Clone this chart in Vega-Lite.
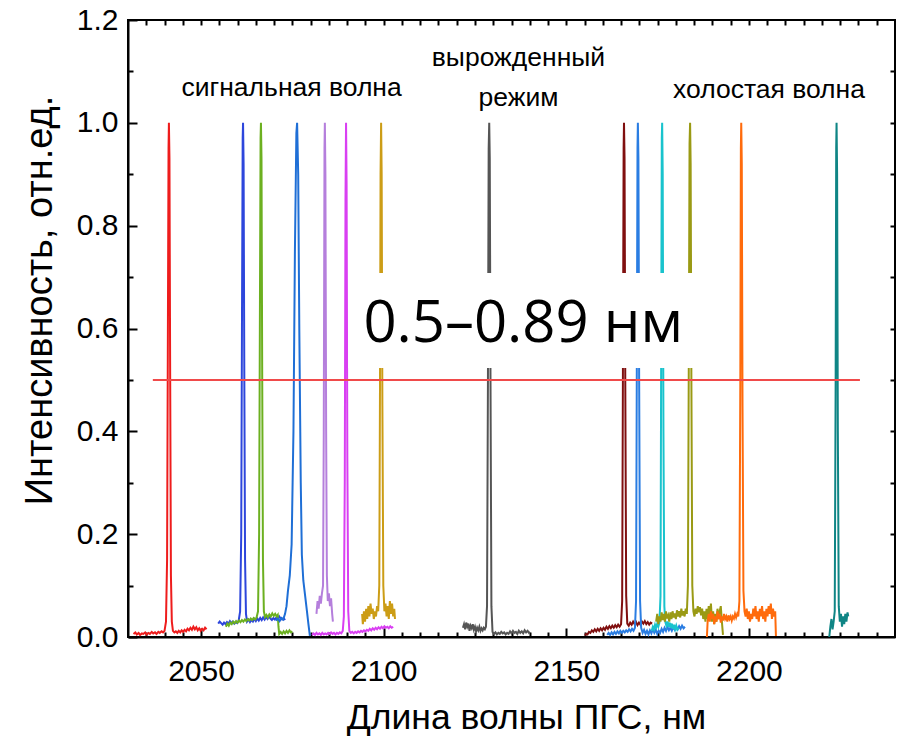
{
"$schema": "https://vega.github.io/schema/vega-lite/v6.json",
"width": 767, "height": 617,
"autosize": {"type": "none"},
"padding": {"left": 128, "top": 20, "right": 15, "bottom": 100},
"background": "white",
"config": {"view": {"stroke": "black", "strokeWidth": 2}, "axis": {"grid": false, "labelColor": "black", "titleColor": "black", "tickColor": "black", "domainColor": "black", "labelFont": "Liberation Sans", "titleFont": "Liberation Sans", "titleFontWeight": "normal", "zindex": 1}},
"datasets": {
"spec": [
{"s":"r1","x":2031.5,"y":0.006},{"s":"r1","x":2032.0,"y":0.009},{"s":"r1","x":2032.4,"y":0.005},{"s":"r1","x":2032.9,"y":0.008},{"s":"r1","x":2033.3,"y":0.004},{"s":"r1","x":2033.8,"y":0.007},{"s":"r1","x":2034.2,"y":0.006},{"s":"r1","x":2034.7,"y":0.009},{"s":"r1","x":2035.1,"y":0.005},{"s":"r1","x":2035.6,"y":0.008},{"s":"r1","x":2036.0,"y":0.006},{"s":"r1","x":2036.5,"y":0.01},{"s":"r1","x":2036.9,"y":0.007},{"s":"r1","x":2037.4,"y":0.009},{"s":"r1","x":2037.8,"y":0.006},{"s":"r1","x":2038.3,"y":0.01},{"s":"r1","x":2038.7,"y":0.008},{"s":"r1","x":2039.2,"y":0.011},{"s":"r1","x":2039.6,"y":0.009},{"s":"r1","x":2040.0,"y":0.012},{"s":"r1","x":2040.4,"y":0.03},{"s":"r1","x":2040.7,"y":0.15},{"s":"r1","x":2040.9,"y":0.55},{"s":"r1","x":2041.1,"y":0.95},{"s":"r1","x":2041.2,"y":1.0},{"s":"r1","x":2041.35,"y":0.93},{"s":"r1","x":2041.55,"y":0.5},{"s":"r1","x":2041.75,"y":0.12},{"s":"r1","x":2042.0,"y":0.03},{"s":"r1","x":2042.3,"y":0.012},{"s":"r1","x":2042.7,"y":0.009},{"s":"r1","x":2043.1,"y":0.011},{"s":"r1","x":2043.5,"y":0.008},{"s":"r1","x":2043.9,"y":0.012},{"s":"r1","x":2044.3,"y":0.009},{"s":"r1","x":2044.7,"y":0.013},{"s":"r1","x":2045.1,"y":0.01},{"s":"r1","x":2045.5,"y":0.014},{"s":"r1","x":2045.9,"y":0.011},{"s":"r1","x":2046.3,"y":0.016},{"s":"r1","x":2046.7,"y":0.013},{"s":"r1","x":2047.1,"y":0.018},{"s":"r1","x":2047.5,"y":0.014},{"s":"r1","x":2047.9,"y":0.02},{"s":"r1","x":2048.3,"y":0.015},{"s":"r1","x":2048.7,"y":0.019},{"s":"r1","x":2049.1,"y":0.013},{"s":"r1","x":2049.5,"y":0.017},{"s":"r1","x":2049.9,"y":0.012},{"s":"r1","x":2050.3,"y":0.016},{"s":"r1","x":2050.7,"y":0.013},{"s":"r1","x":2051.1,"y":0.018},{"s":"r1","x":2051.5,"y":0.015},
{"s":"b1","x":2054.7,"y":0.026},{"s":"b1","x":2055.1,"y":0.03},{"s":"b1","x":2055.5,"y":0.027},{"s":"b1","x":2055.9,"y":0.024},{"s":"b1","x":2056.3,"y":0.028},{"s":"b1","x":2056.7,"y":0.025},{"s":"b1","x":2057.1,"y":0.029},{"s":"b1","x":2057.5,"y":0.026},{"s":"b1","x":2057.9,"y":0.031},{"s":"b1","x":2058.3,"y":0.027},{"s":"b1","x":2058.7,"y":0.03},{"s":"b1","x":2059.1,"y":0.026},{"s":"b1","x":2059.5,"y":0.029},{"s":"b1","x":2059.9,"y":0.027},{"s":"b1","x":2060.3,"y":0.032},{"s":"b1","x":2060.7,"y":0.05},{"s":"b1","x":2061.0,"y":0.2},{"s":"b1","x":2061.2,"y":0.6},{"s":"b1","x":2061.4,"y":0.97},{"s":"b1","x":2061.5,"y":1.0},{"s":"b1","x":2061.65,"y":0.92},{"s":"b1","x":2061.85,"y":0.5},{"s":"b1","x":2062.05,"y":0.15},{"s":"b1","x":2062.3,"y":0.045},{"s":"b1","x":2062.6,"y":0.03},{"s":"b1","x":2063.0,"y":0.034},{"s":"b1","x":2063.4,"y":0.029},{"s":"b1","x":2063.8,"y":0.033},{"s":"b1","x":2064.2,"y":0.03},{"s":"b1","x":2064.6,"y":0.035},{"s":"b1","x":2065.0,"y":0.031},{"s":"b1","x":2065.4,"y":0.036},{"s":"b1","x":2065.8,"y":0.032},{"s":"b1","x":2066.2,"y":0.037},{"s":"b1","x":2066.6,"y":0.033},{"s":"b1","x":2067.0,"y":0.038},{"s":"b1","x":2067.4,"y":0.034},{"s":"b1","x":2067.8,"y":0.039},{"s":"b1","x":2068.2,"y":0.035},{"s":"b1","x":2068.6,"y":0.04},{"s":"b1","x":2069.0,"y":0.036},{"s":"b1","x":2069.4,"y":0.033},{"s":"b1","x":2069.8,"y":0.037},{"s":"b1","x":2070.2,"y":0.034},{"s":"b1","x":2070.6,"y":0.038},{"s":"b1","x":2071.0,"y":0.035},{"s":"b1","x":2071.4,"y":0.04},{"s":"b1","x":2071.8,"y":0.036},{"s":"b1","x":2072.2,"y":0.034},{"s":"b1","x":2072.6,"y":0.037},{"s":"b1","x":2073.0,"y":0.033},
{"s":"g1","x":2056.8,"y":0.02},{"s":"g1","x":2057.2,"y":0.026},{"s":"g1","x":2057.6,"y":0.022},{"s":"g1","x":2058.0,"y":0.028},{"s":"g1","x":2058.4,"y":0.025},{"s":"g1","x":2058.8,"y":0.03},{"s":"g1","x":2059.2,"y":0.027},{"s":"g1","x":2059.6,"y":0.031},{"s":"g1","x":2060.0,"y":0.028},{"s":"g1","x":2060.4,"y":0.032},{"s":"g1","x":2060.8,"y":0.029},{"s":"g1","x":2061.2,"y":0.033},{"s":"g1","x":2061.6,"y":0.03},{"s":"g1","x":2062.0,"y":0.034},{"s":"g1","x":2062.4,"y":0.031},{"s":"g1","x":2062.8,"y":0.035},{"s":"g1","x":2063.2,"y":0.032},{"s":"g1","x":2063.6,"y":0.036},{"s":"g1","x":2064.0,"y":0.033},{"s":"g1","x":2064.4,"y":0.037},{"s":"g1","x":2064.8,"y":0.034},{"s":"g1","x":2065.2,"y":0.038},{"s":"g1","x":2065.6,"y":0.05},{"s":"g1","x":2065.9,"y":0.2},{"s":"g1","x":2066.1,"y":0.6},{"s":"g1","x":2066.3,"y":0.97},{"s":"g1","x":2066.4,"y":1.0},{"s":"g1","x":2066.55,"y":0.93},{"s":"g1","x":2066.75,"y":0.5},{"s":"g1","x":2066.95,"y":0.15},{"s":"g1","x":2067.2,"y":0.05},{"s":"g1","x":2067.5,"y":0.039},{"s":"g1","x":2067.9,"y":0.043},{"s":"g1","x":2068.3,"y":0.038},{"s":"g1","x":2068.7,"y":0.044},{"s":"g1","x":2069.1,"y":0.04},{"s":"g1","x":2069.5,"y":0.046},{"s":"g1","x":2069.9,"y":0.041},{"s":"g1","x":2070.3,"y":0.045},{"s":"g1","x":2070.7,"y":0.04},{"s":"g1","x":2071.0,"y":0.043},{"s":"g1","x":2071.2,"y":0.02},{"s":"g1","x":2071.4,"y":0.006},{"s":"g1","x":2071.8,"y":0.01},{"s":"g1","x":2072.2,"y":0.006},{"s":"g1","x":2072.6,"y":0.011},{"s":"g1","x":2073.0,"y":0.007},{"s":"g1","x":2073.4,"y":0.012},{"s":"g1","x":2073.8,"y":0.008},{"s":"g1","x":2074.2,"y":0.013},{"s":"g1","x":2074.6,"y":0.009},{"s":"g1","x":2075.0,"y":0.011},
{"s":"b2","x":2070.5,"y":0.032},{"s":"b2","x":2071.0,"y":0.036},{"s":"b2","x":2071.5,"y":0.031},{"s":"b2","x":2072.0,"y":0.037},{"s":"b2","x":2072.5,"y":0.034},{"s":"b2","x":2073.0,"y":0.045},{"s":"b2","x":2073.4,"y":0.06},{"s":"b2","x":2073.8,"y":0.09},{"s":"b2","x":2074.3,"y":0.12},{"s":"b2","x":2074.8,"y":0.18},{"s":"b2","x":2075.3,"y":0.4},{"s":"b2","x":2075.7,"y":0.75},{"s":"b2","x":2076.1,"y":0.98},{"s":"b2","x":2076.3,"y":1.0},{"s":"b2","x":2076.6,"y":0.9},{"s":"b2","x":2076.9,"y":0.6},{"s":"b2","x":2077.3,"y":0.3},{"s":"b2","x":2077.6,"y":0.16},{"s":"b2","x":2078.0,"y":0.11},{"s":"b2","x":2078.5,"y":0.08},{"s":"b2","x":2079.0,"y":0.05},{"s":"b2","x":2079.4,"y":0.025},{"s":"b2","x":2079.8,"y":0.002},
{"s":"l1","x":2081.6,"y":0.045},{"s":"l1","x":2081.9,"y":0.07},{"s":"l1","x":2082.2,"y":0.055},{"s":"l1","x":2082.5,"y":0.08},{"s":"l1","x":2082.8,"y":0.065},{"s":"l1","x":2083.1,"y":0.085},{"s":"l1","x":2083.4,"y":0.1},{"s":"l1","x":2083.6,"y":0.4},{"s":"l1","x":2083.8,"y":0.95},{"s":"l1","x":2083.9,"y":1.0},{"s":"l1","x":2084.05,"y":0.9},{"s":"l1","x":2084.25,"y":0.4},{"s":"l1","x":2084.45,"y":0.12},{"s":"l1","x":2084.7,"y":0.07},{"s":"l1","x":2085.0,"y":0.085},{"s":"l1","x":2085.3,"y":0.06},{"s":"l1","x":2085.6,"y":0.075},{"s":"l1","x":2085.9,"y":0.045},{"s":"l1","x":2086.1,"y":0.03},
{"s":"m1","x":2080.4,"y":0.004},{"s":"m1","x":2080.8,"y":0.007},{"s":"m1","x":2081.2,"y":0.004},{"s":"m1","x":2081.6,"y":0.008},{"s":"m1","x":2082.0,"y":0.005},{"s":"m1","x":2082.4,"y":0.007},{"s":"m1","x":2082.8,"y":0.004},{"s":"m1","x":2083.2,"y":0.008},{"s":"m1","x":2083.6,"y":0.005},{"s":"m1","x":2084.0,"y":0.007},{"s":"m1","x":2084.4,"y":0.005},{"s":"m1","x":2084.8,"y":0.008},{"s":"m1","x":2085.2,"y":0.006},{"s":"m1","x":2085.6,"y":0.009},{"s":"m1","x":2086.0,"y":0.006},{"s":"m1","x":2086.4,"y":0.008},{"s":"m1","x":2086.8,"y":0.005},{"s":"m1","x":2087.2,"y":0.008},{"s":"m1","x":2087.6,"y":0.006},{"s":"m1","x":2088.0,"y":0.009},{"s":"m1","x":2088.4,"y":0.007},{"s":"m1","x":2088.8,"y":0.012},{"s":"m1","x":2089.1,"y":0.04},{"s":"m1","x":2089.35,"y":0.3},{"s":"m1","x":2089.55,"y":0.85},{"s":"m1","x":2089.7,"y":1.0},{"s":"m1","x":2089.85,"y":0.88},{"s":"m1","x":2090.05,"y":0.35},{"s":"m1","x":2090.3,"y":0.05},{"s":"m1","x":2090.6,"y":0.012},{"s":"m1","x":2091.0,"y":0.008},{"s":"m1","x":2091.4,"y":0.01},{"s":"m1","x":2091.8,"y":0.007},{"s":"m1","x":2092.2,"y":0.01},{"s":"m1","x":2092.6,"y":0.008},{"s":"m1","x":2093.0,"y":0.011},{"s":"m1","x":2093.4,"y":0.009},{"s":"m1","x":2093.8,"y":0.012},{"s":"m1","x":2094.2,"y":0.01},{"s":"m1","x":2094.6,"y":0.013},{"s":"m1","x":2095.0,"y":0.011},{"s":"m1","x":2095.4,"y":0.014},{"s":"m1","x":2095.8,"y":0.012},{"s":"m1","x":2096.2,"y":0.016},{"s":"m1","x":2096.6,"y":0.013},{"s":"m1","x":2097.0,"y":0.017},{"s":"m1","x":2097.4,"y":0.014},{"s":"m1","x":2097.8,"y":0.018},{"s":"m1","x":2098.2,"y":0.015},{"s":"m1","x":2098.6,"y":0.019},{"s":"m1","x":2099.0,"y":0.016},{"s":"m1","x":2099.4,"y":0.02},{"s":"m1","x":2099.8,"y":0.017},{"s":"m1","x":2100.2,"y":0.021},{"s":"m1","x":2100.6,"y":0.018},{"s":"m1","x":2101.0,"y":0.02},{"s":"m1","x":2101.4,"y":0.017},{"s":"m1","x":2101.8,"y":0.021},{"s":"m1","x":2102.2,"y":0.018},{"s":"m1","x":2102.6,"y":0.02},
{"s":"y1","x":2094.1,"y":0.045},{"s":"y1","x":2094.3,"y":0.025},{"s":"y1","x":2094.6,"y":0.05},{"s":"y1","x":2094.9,"y":0.03},{"s":"y1","x":2095.2,"y":0.055},{"s":"y1","x":2095.5,"y":0.035},{"s":"y1","x":2095.8,"y":0.06},{"s":"y1","x":2096.1,"y":0.04},{"s":"y1","x":2096.4,"y":0.065},{"s":"y1","x":2096.7,"y":0.045},{"s":"y1","x":2097.0,"y":0.055},{"s":"y1","x":2097.3,"y":0.035},{"s":"y1","x":2097.6,"y":0.05},{"s":"y1","x":2097.9,"y":0.04},{"s":"y1","x":2098.2,"y":0.06},{"s":"y1","x":2098.5,"y":0.05},{"s":"y1","x":2098.8,"y":0.1},{"s":"y1","x":2099.0,"y":0.5},{"s":"y1","x":2099.15,"y":0.9},{"s":"y1","x":2099.3,"y":1.0},{"s":"y1","x":2099.45,"y":0.9},{"s":"y1","x":2099.65,"y":0.45},{"s":"y1","x":2099.9,"y":0.1},{"s":"y1","x":2100.2,"y":0.05},{"s":"y1","x":2100.5,"y":0.065},{"s":"y1","x":2100.8,"y":0.04},{"s":"y1","x":2101.1,"y":0.06},{"s":"y1","x":2101.4,"y":0.035},{"s":"y1","x":2101.7,"y":0.07},{"s":"y1","x":2102.0,"y":0.045},{"s":"y1","x":2102.3,"y":0.065},{"s":"y1","x":2102.6,"y":0.04},{"s":"y1","x":2102.9,"y":0.055},{"s":"y1","x":2103.1,"y":0.035},
{"s":"k1","x":2121.7,"y":0.018},{"s":"k1","x":2122.0,"y":0.025},{"s":"k1","x":2122.3,"y":0.015},{"s":"k1","x":2122.6,"y":0.028},{"s":"k1","x":2122.9,"y":0.02},{"s":"k1","x":2123.2,"y":0.026},{"s":"k1","x":2123.5,"y":0.012},{"s":"k1","x":2123.8,"y":0.022},{"s":"k1","x":2124.1,"y":0.017},{"s":"k1","x":2124.4,"y":0.025},{"s":"k1","x":2124.7,"y":0.014},{"s":"k1","x":2125.0,"y":0.02},{"s":"k1","x":2125.3,"y":0.011},{"s":"k1","x":2125.6,"y":0.018},{"s":"k1","x":2125.9,"y":0.013},{"s":"k1","x":2126.2,"y":0.02},{"s":"k1","x":2126.5,"y":0.012},{"s":"k1","x":2126.8,"y":0.017},{"s":"k1","x":2127.1,"y":0.013},{"s":"k1","x":2127.4,"y":0.018},{"s":"k1","x":2127.7,"y":0.015},{"s":"k1","x":2128.0,"y":0.02},{"s":"k1","x":2128.3,"y":0.06},{"s":"k1","x":2128.55,"y":0.5},{"s":"k1","x":2128.75,"y":0.95},{"s":"k1","x":2128.9,"y":1.0},{"s":"k1","x":2129.05,"y":0.93},{"s":"k1","x":2129.25,"y":0.5},{"s":"k1","x":2129.5,"y":0.06},{"s":"k1","x":2129.8,"y":0.01},{"s":"k1","x":2130.2,"y":0.006},{"s":"k1","x":2130.6,"y":0.009},{"s":"k1","x":2131.0,"y":0.005},{"s":"k1","x":2131.4,"y":0.008},{"s":"k1","x":2131.8,"y":0.006},{"s":"k1","x":2132.2,"y":0.01},{"s":"k1","x":2132.6,"y":0.007},{"s":"k1","x":2133.0,"y":0.009},{"s":"k1","x":2133.4,"y":0.005},{"s":"k1","x":2133.8,"y":0.008},{"s":"k1","x":2134.2,"y":0.006},{"s":"k1","x":2134.6,"y":0.011},{"s":"k1","x":2135.0,"y":0.007},{"s":"k1","x":2135.4,"y":0.012},{"s":"k1","x":2135.8,"y":0.008},{"s":"k1","x":2136.2,"y":0.01},{"s":"k1","x":2136.6,"y":0.006},{"s":"k1","x":2137.0,"y":0.012},{"s":"k1","x":2137.4,"y":0.008},{"s":"k1","x":2137.8,"y":0.011},{"s":"k1","x":2138.2,"y":0.007},{"s":"k1","x":2138.6,"y":0.013},{"s":"k1","x":2139.0,"y":0.009},{"s":"k1","x":2139.4,"y":0.012},{"s":"k1","x":2139.8,"y":0.008},{"s":"k1","x":2140.1,"y":0.01},
{"s":"d1","x":2155.1,"y":0.003},{"s":"d1","x":2155.4,"y":0.006},{"s":"d1","x":2155.8,"y":0.005},{"s":"d1","x":2156.2,"y":0.01},{"s":"d1","x":2156.6,"y":0.008},{"s":"d1","x":2157.0,"y":0.013},{"s":"d1","x":2157.4,"y":0.01},{"s":"d1","x":2157.8,"y":0.015},{"s":"d1","x":2158.2,"y":0.011},{"s":"d1","x":2158.6,"y":0.016},{"s":"d1","x":2159.0,"y":0.012},{"s":"d1","x":2159.4,"y":0.017},{"s":"d1","x":2159.8,"y":0.013},{"s":"d1","x":2160.2,"y":0.018},{"s":"d1","x":2160.6,"y":0.014},{"s":"d1","x":2161.0,"y":0.02},{"s":"d1","x":2161.4,"y":0.016},{"s":"d1","x":2161.8,"y":0.021},{"s":"d1","x":2162.2,"y":0.017},{"s":"d1","x":2162.6,"y":0.022},{"s":"d1","x":2163.0,"y":0.018},{"s":"d1","x":2163.4,"y":0.023},{"s":"d1","x":2163.8,"y":0.019},{"s":"d1","x":2164.2,"y":0.024},{"s":"d1","x":2164.6,"y":0.02},{"s":"d1","x":2165.0,"y":0.025},{"s":"d1","x":2165.3,"y":0.07},{"s":"d1","x":2165.5,"y":0.5},{"s":"d1","x":2165.7,"y":0.95},{"s":"d1","x":2165.8,"y":1.0},{"s":"d1","x":2165.95,"y":0.93},{"s":"d1","x":2166.15,"y":0.5},{"s":"d1","x":2166.4,"y":0.08},{"s":"d1","x":2166.7,"y":0.026},{"s":"d1","x":2167.1,"y":0.022},{"s":"d1","x":2167.5,"y":0.028},{"s":"d1","x":2167.9,"y":0.024},{"s":"d1","x":2168.3,"y":0.03},{"s":"d1","x":2168.7,"y":0.025},{"s":"d1","x":2169.1,"y":0.029},{"s":"d1","x":2169.5,"y":0.023},{"s":"d1","x":2169.9,"y":0.028},{"s":"d1","x":2170.3,"y":0.024},{"s":"d1","x":2170.7,"y":0.03},{"s":"d1","x":2171.1,"y":0.026},{"s":"d1","x":2171.5,"y":0.031},{"s":"d1","x":2171.9,"y":0.025},{"s":"d1","x":2172.3,"y":0.029},{"s":"d1","x":2172.7,"y":0.024},{"s":"d1","x":2173.1,"y":0.028},{"s":"d1","x":2173.5,"y":0.026},
{"s":"b3","x":2161.2,"y":0.004},{"s":"b3","x":2161.6,"y":0.008},{"s":"b3","x":2162.0,"y":0.004},{"s":"b3","x":2162.4,"y":0.009},{"s":"b3","x":2162.8,"y":0.005},{"s":"b3","x":2163.2,"y":0.01},{"s":"b3","x":2163.6,"y":0.006},{"s":"b3","x":2164.0,"y":0.011},{"s":"b3","x":2164.4,"y":0.007},{"s":"b3","x":2164.8,"y":0.012},{"s":"b3","x":2165.2,"y":0.008},{"s":"b3","x":2165.6,"y":0.012},{"s":"b3","x":2166.0,"y":0.009},{"s":"b3","x":2166.4,"y":0.013},{"s":"b3","x":2166.8,"y":0.01},{"s":"b3","x":2167.2,"y":0.015},{"s":"b3","x":2167.6,"y":0.011},{"s":"b3","x":2168.0,"y":0.016},{"s":"b3","x":2168.4,"y":0.012},{"s":"b3","x":2168.8,"y":0.018},{"s":"b3","x":2169.1,"y":0.07},{"s":"b3","x":2169.3,"y":0.5},{"s":"b3","x":2169.5,"y":0.95},{"s":"b3","x":2169.6,"y":1.0},{"s":"b3","x":2169.75,"y":0.93},{"s":"b3","x":2169.95,"y":0.5},{"s":"b3","x":2170.2,"y":0.07},{"s":"b3","x":2170.5,"y":0.018},{"s":"b3","x":2170.9,"y":0.008},{"s":"b3","x":2171.3,"y":0.014},{"s":"b3","x":2171.7,"y":0.006},{"s":"b3","x":2172.1,"y":0.012},{"s":"b3","x":2172.5,"y":0.005},{"s":"b3","x":2172.9,"y":0.013},{"s":"b3","x":2173.3,"y":0.007},{"s":"b3","x":2173.7,"y":0.015},{"s":"b3","x":2174.1,"y":0.008},{"s":"b3","x":2174.5,"y":0.014},{"s":"b3","x":2174.9,"y":0.006},{"s":"b3","x":2175.3,"y":0.012},{"s":"b3","x":2175.7,"y":0.008},{"s":"b3","x":2176.1,"y":0.016},{"s":"b3","x":2176.5,"y":0.01},{"s":"b3","x":2176.9,"y":0.018},{"s":"b3","x":2177.3,"y":0.012},{"s":"b3","x":2177.7,"y":0.02},{"s":"b3","x":2178.1,"y":0.013},{"s":"b3","x":2178.5,"y":0.018},{"s":"b3","x":2178.9,"y":0.012},{"s":"b3","x":2179.3,"y":0.019},{"s":"b3","x":2179.7,"y":0.014},{"s":"b3","x":2180.1,"y":0.02},{"s":"b3","x":2180.5,"y":0.015},{"s":"b3","x":2180.9,"y":0.021},{"s":"b3","x":2181.3,"y":0.016},{"s":"b3","x":2181.7,"y":0.022},{"s":"b3","x":2182.1,"y":0.017},{"s":"b3","x":2182.5,"y":0.02},
{"s":"c1","x":2173.4,"y":0.012},{"s":"c1","x":2173.7,"y":0.02},{"s":"c1","x":2174.0,"y":0.015},{"s":"c1","x":2174.3,"y":0.024},{"s":"c1","x":2174.6,"y":0.018},{"s":"c1","x":2174.9,"y":0.026},{"s":"c1","x":2175.2,"y":0.02},{"s":"c1","x":2175.5,"y":0.028},{"s":"c1","x":2175.8,"y":0.08},{"s":"c1","x":2176.0,"y":0.6},{"s":"c1","x":2176.15,"y":0.97},{"s":"c1","x":2176.25,"y":1.0},{"s":"c1","x":2176.4,"y":0.9},{"s":"c1","x":2176.6,"y":0.4},{"s":"c1","x":2176.85,"y":0.06},{"s":"c1","x":2177.1,"y":0.03},{"s":"c1","x":2177.4,"y":0.022},{"s":"c1","x":2177.7,"y":0.03},{"s":"c1","x":2178.0,"y":0.02},{"s":"c1","x":2178.3,"y":0.028},{"s":"c1","x":2178.6,"y":0.018},{"s":"c1","x":2178.9,"y":0.026},{"s":"c1","x":2179.2,"y":0.016},{"s":"c1","x":2179.5,"y":0.024},{"s":"c1","x":2179.8,"y":0.015},{"s":"c1","x":2180.1,"y":0.022},{"s":"c1","x":2180.4,"y":0.014},{"s":"c1","x":2180.8,"y":0.018},
{"s":"o1","x":2174.6,"y":0.03},{"s":"o1","x":2174.9,"y":0.045},{"s":"o1","x":2175.2,"y":0.025},{"s":"o1","x":2175.5,"y":0.04},{"s":"o1","x":2175.8,"y":0.03},{"s":"o1","x":2176.1,"y":0.048},{"s":"o1","x":2176.4,"y":0.033},{"s":"o1","x":2176.7,"y":0.045},{"s":"o1","x":2177.0,"y":0.03},{"s":"o1","x":2177.3,"y":0.05},{"s":"o1","x":2177.6,"y":0.036},{"s":"o1","x":2177.9,"y":0.042},{"s":"o1","x":2178.2,"y":0.03},{"s":"o1","x":2178.5,"y":0.048},{"s":"o1","x":2178.8,"y":0.035},{"s":"o1","x":2179.1,"y":0.05},{"s":"o1","x":2179.4,"y":0.038},{"s":"o1","x":2179.7,"y":0.046},{"s":"o1","x":2180.0,"y":0.035},{"s":"o1","x":2180.3,"y":0.052},{"s":"o1","x":2180.6,"y":0.04},{"s":"o1","x":2180.9,"y":0.05},{"s":"o1","x":2181.2,"y":0.038},{"s":"o1","x":2181.5,"y":0.055},{"s":"o1","x":2181.8,"y":0.042},{"s":"o1","x":2182.1,"y":0.05},{"s":"o1","x":2182.4,"y":0.04},{"s":"o1","x":2182.7,"y":0.055},{"s":"o1","x":2183.0,"y":0.045},{"s":"o1","x":2183.3,"y":0.1},{"s":"o1","x":2183.55,"y":0.55},{"s":"o1","x":2183.75,"y":0.96},{"s":"o1","x":2183.9,"y":1.0},{"s":"o1","x":2184.05,"y":0.92},{"s":"o1","x":2184.25,"y":0.5},{"s":"o1","x":2184.5,"y":0.1},{"s":"o1","x":2184.8,"y":0.05},{"s":"o1","x":2185.1,"y":0.04},{"s":"o1","x":2185.4,"y":0.055},{"s":"o1","x":2185.7,"y":0.045},{"s":"o1","x":2186.0,"y":0.06},{"s":"o1","x":2186.3,"y":0.048},{"s":"o1","x":2186.6,"y":0.058},{"s":"o1","x":2186.9,"y":0.042},{"s":"o1","x":2187.2,"y":0.055},{"s":"o1","x":2187.5,"y":0.035},{"s":"o1","x":2187.8,"y":0.05},{"s":"o1","x":2188.1,"y":0.03},{"s":"o1","x":2188.4,"y":0.055},{"s":"o1","x":2188.7,"y":0.035},{"s":"o1","x":2189.0,"y":0.06},{"s":"o1","x":2189.3,"y":0.04},{"s":"o1","x":2189.6,"y":0.065},{"s":"o1","x":2189.9,"y":0.03},{"s":"o1","x":2190.2,"y":0.05},{"s":"o1","x":2190.5,"y":0.025},{"s":"o1","x":2190.8,"y":0.045},{"s":"o1","x":2191.1,"y":0.03},{"s":"o1","x":2191.4,"y":0.055},{"s":"o1","x":2191.7,"y":0.035},{"s":"o1","x":2192.0,"y":0.05},{"s":"o1","x":2192.3,"y":0.06},{"s":"o1","x":2192.6,"y":0.03},{"s":"o1","x":2192.9,"y":0.004},
{"s":"n1","x":2188.5,"y":0.0},{"s":"n1","x":2188.7,"y":0.03},{"s":"n1","x":2189.0,"y":0.045},{"s":"n1","x":2189.3,"y":0.03},{"s":"n1","x":2189.6,"y":0.05},{"s":"n1","x":2189.9,"y":0.035},{"s":"n1","x":2190.2,"y":0.045},{"s":"n1","x":2190.5,"y":0.025},{"s":"n1","x":2190.8,"y":0.04},{"s":"n1","x":2191.1,"y":0.03},{"s":"n1","x":2191.4,"y":0.05},{"s":"n1","x":2191.7,"y":0.035},{"s":"n1","x":2192.0,"y":0.045},{"s":"n1","x":2192.3,"y":0.028},{"s":"n1","x":2192.6,"y":0.04},{"s":"n1","x":2192.9,"y":0.032},{"s":"n1","x":2193.2,"y":0.045},{"s":"n1","x":2193.5,"y":0.035},{"s":"n1","x":2193.8,"y":0.04},{"s":"n1","x":2194.1,"y":0.03},{"s":"n1","x":2194.4,"y":0.042},{"s":"n1","x":2194.7,"y":0.035},{"s":"n1","x":2195.0,"y":0.04},{"s":"n1","x":2195.3,"y":0.032},{"s":"n1","x":2195.6,"y":0.04},{"s":"n1","x":2195.9,"y":0.036},{"s":"n1","x":2196.2,"y":0.045},{"s":"n1","x":2196.5,"y":0.038},{"s":"n1","x":2196.8,"y":0.045},{"s":"n1","x":2197.1,"y":0.04},{"s":"n1","x":2197.4,"y":0.07},{"s":"n1","x":2197.65,"y":0.5},{"s":"n1","x":2197.8,"y":0.95},{"s":"n1","x":2197.9,"y":1.0},{"s":"n1","x":2198.05,"y":0.92},{"s":"n1","x":2198.25,"y":0.45},{"s":"n1","x":2198.5,"y":0.09},{"s":"n1","x":2198.8,"y":0.05},{"s":"n1","x":2199.1,"y":0.04},{"s":"n1","x":2199.4,"y":0.055},{"s":"n1","x":2199.7,"y":0.035},{"s":"n1","x":2200.0,"y":0.05},{"s":"n1","x":2200.3,"y":0.03},{"s":"n1","x":2200.6,"y":0.045},{"s":"n1","x":2200.9,"y":0.035},{"s":"n1","x":2201.2,"y":0.055},{"s":"n1","x":2201.5,"y":0.04},{"s":"n1","x":2201.8,"y":0.06},{"s":"n1","x":2202.1,"y":0.035},{"s":"n1","x":2202.4,"y":0.05},{"s":"n1","x":2202.7,"y":0.03},{"s":"n1","x":2203.0,"y":0.055},{"s":"n1","x":2203.3,"y":0.04},{"s":"n1","x":2203.6,"y":0.06},{"s":"n1","x":2203.9,"y":0.035},{"s":"n1","x":2204.2,"y":0.05},{"s":"n1","x":2204.5,"y":0.03},{"s":"n1","x":2204.8,"y":0.055},{"s":"n1","x":2205.1,"y":0.04},{"s":"n1","x":2205.4,"y":0.06},{"s":"n1","x":2205.7,"y":0.045},{"s":"n1","x":2206.0,"y":0.065},{"s":"n1","x":2206.3,"y":0.035},{"s":"n1","x":2206.6,"y":0.055},{"s":"n1","x":2206.9,"y":0.04},{"s":"n1","x":2207.2,"y":0.05},{"s":"n1","x":2207.4,"y":0.002},
{"s":"t1","x":2222.0,"y":0.0},{"s":"t1","x":2222.3,"y":0.02},{"s":"t1","x":2222.6,"y":0.035},{"s":"t1","x":2222.9,"y":0.015},{"s":"t1","x":2223.2,"y":0.03},{"s":"t1","x":2223.5,"y":0.05},{"s":"t1","x":2223.75,"y":0.5},{"s":"t1","x":2223.9,"y":0.95},{"s":"t1","x":2224.0,"y":1.0},{"s":"t1","x":2224.15,"y":0.9},{"s":"t1","x":2224.35,"y":0.4},{"s":"t1","x":2224.6,"y":0.06},{"s":"t1","x":2224.9,"y":0.03},{"s":"t1","x":2225.2,"y":0.045},{"s":"t1","x":2225.5,"y":0.02},{"s":"t1","x":2225.8,"y":0.04},{"s":"t1","x":2226.1,"y":0.025},{"s":"t1","x":2226.4,"y":0.045},{"s":"t1","x":2226.7,"y":0.03},{"s":"t1","x":2227.0,"y":0.048},{"s":"t1","x":2227.2,"y":0.04}
],
"box": [{"x1": 2090.3, "x2": 2187.5, "y1": 0.523, "y2": 0.708}],
"hline": [{"x1": 2036.8, "x2": 2230.4, "y": 0.5}],
"notes": [
{"x": 2074.8, "y": 1.068, "t": "сигнальная волна"},
{"x": 2136.9, "y": 1.126, "t": "вырожденный"},
{"x": 2136.9, "y": 1.048, "t": "режим"},
{"x": 2205.5, "y": 1.064, "t": "холостая волна"}
],
"big": [{"x": 2138.2, "y": 0.607, "t": "0.5–0.89 нм"}]
},
"layer": [
{
"data": {"name": "spec"},
"mark": {"type": "line", "strokeWidth": 2, "interpolate": "linear"},
"encoding": {
"x": {"field": "x", "type": "quantitative", "scale": {"domain": [2030, 2240], "nice": false, "zero": false},
"axis": {"orient": "bottom", "values": [2050, 2100, 2150, 2200], "format": "d", "labelOverlap": false, "labelBound": false, "ticks": true, "tickSize": 9, "tickWidth": 2, "tickColor": "black", "domain": true, "domainWidth": 2, "labelFontSize": 30, "labelPadding": 10, "labelFlush": false, "title": "Длина волны ПГС, нм", "titleFontSize": 35.5, "titlePadding": 14, "titleX": 398,
"encoding": {"ticks": {"y2": {"value": -9}}}}},
"y": {"field": "y", "type": "quantitative", "scale": {"domain": [0, 1.2], "nice": false, "zero": false},
"axis": {"orient": "left", "values": [0, 0.2, 0.4, 0.6, 0.8, 1.0, 1.2], "format": ".1f", "labelOverlap": false, "labelBound": false, "ticks": true, "tickSize": 9, "tickWidth": 2, "tickColor": "black", "domain": true, "domainWidth": 2, "labelFontSize": 30, "labelPadding": 1, "labelFlush": false, "title": "Интенсивность, отн.ед.", "titleFontSize": 38, "titlePadding": 17, "titleY": 280,
"encoding": {"ticks": {"x2": {"value": 9}}}}},
"color": {"field": "s", "type": "nominal", "legend": null,
"scale": {"domain": ["r1","b1","g1","b2","l1","m1","y1","k1","d1","b3","c1","o1","n1","t1"],
"range": ["#ee1c1c","#2d46dc","#6cb020","#1f6fd6","#b57fdc","#d93ff2","#cc9d16","#555555","#800f0f","#2a7de2","#19c3cd","#9a9a14","#ff6b0c","#0f8585"]}}
}
},
{
"data": {"name": "box"},
"mark": {"type": "rect", "fill": "white", "stroke": null},
"encoding": {
"x": {"field": "x1", "type": "quantitative", "scale": {"domain": [2030, 2240], "nice": false, "zero": false}, "axis": null},
"x2": {"field": "x2"},
"y": {"field": "y1", "type": "quantitative", "scale": {"domain": [0, 1.2], "nice": false, "zero": false}, "axis": null},
"y2": {"field": "y2"}
}
},
{
"data": {"name": "hline"},
"mark": {"type": "rule", "color": "#f04a4a", "strokeWidth": 2},
"encoding": {
"x": {"field": "x1", "type": "quantitative", "scale": {"domain": [2030, 2240], "nice": false, "zero": false}, "axis": null},
"x2": {"field": "x2"},
"y": {"field": "y", "type": "quantitative", "scale": {"domain": [0, 1.2], "nice": false, "zero": false}, "axis": null}
}
},
{
"data": {"name": "notes"},
"mark": {"type": "text", "font": "Liberation Sans", "fontSize": 26.5, "align": "center", "baseline": "middle", "color": "black"},
"encoding": {
"x": {"field": "x", "type": "quantitative", "scale": {"domain": [2030, 2240], "nice": false, "zero": false},
"axis": {"orient": "top", "values": [2035,2040,2045,2050,2055,2060,2065,2070,2075,2080,2085,2090,2095,2100,2105,2110,2115,2120,2125,2130,2135,2140,2145,2150,2155,2160,2165,2170,2175,2180,2185,2190,2195,2200,2205,2210,2215,2220,2225,2230,2235], "labels": false, "domain": false, "ticks": true, "tickColor": "black", "tickSize": 5, "tickWidth": 2, "title": null,
"encoding": {"ticks": {"y2": {"value": 5}}}}},
"y": {"field": "y", "type": "quantitative", "scale": {"domain": [0, 1.2], "nice": false, "zero": false},
"axis": {"orient": "right", "values": [0.1,0.2,0.3,0.4,0.5,0.6,0.7,0.8,0.9,1.0,1.1], "labels": false, "domain": false, "ticks": true, "tickColor": "black", "tickSize": 5, "tickWidth": 2, "title": null,
"encoding": {"ticks": {"x2": {"value": -5}}}}},
"text": {"field": "t"}
}
},
{
"data": {"name": "big"},
"mark": {"type": "text", "font": "Open Sans", "fontSize": 58, "align": "center", "baseline": "middle", "color": "black"},
"encoding": {
"x": {"field": "x", "type": "quantitative", "scale": {"domain": [2030, 2240], "nice": false, "zero": false},
"axis": {"orient": "bottom", "values": [2035,2040,2045,2055,2060,2065,2070,2075,2080,2085,2090,2095,2105,2110,2115,2120,2125,2130,2135,2140,2145,2155,2160,2165,2170,2175,2180,2185,2190,2195,2205,2210,2215,2220,2225,2230,2235], "labels": false, "domain": false, "ticks": true, "tickColor": "black", "tickSize": 5, "tickWidth": 2, "title": null,
"encoding": {"ticks": {"y2": {"value": -5}}}}},
"y": {"field": "y", "type": "quantitative", "scale": {"domain": [0, 1.2], "nice": false, "zero": false},
"axis": {"orient": "left", "values": [0.1, 0.3, 0.5, 0.7, 0.9, 1.1], "labels": false, "domain": false, "ticks": true, "tickColor": "black", "tickSize": 5, "tickWidth": 2, "title": null,
"encoding": {"ticks": {"x2": {"value": 5}}}}},
"text": {"field": "t"}
}
}
],
"resolve": {"axis": {"x": "independent", "y": "independent"}}
}
